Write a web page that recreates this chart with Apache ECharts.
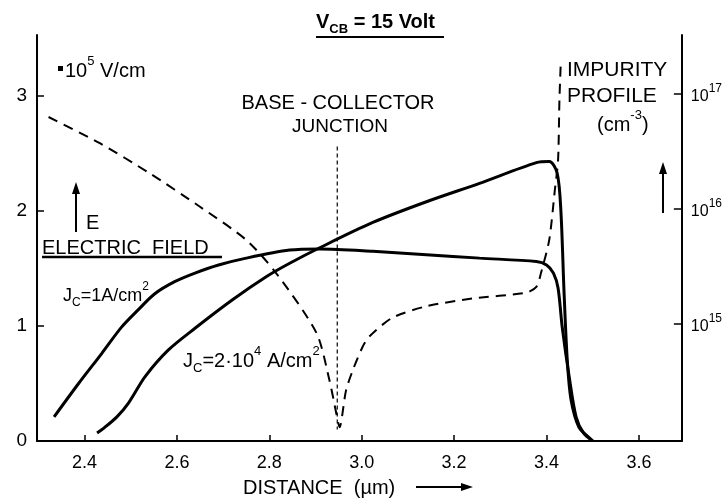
<!DOCTYPE html>
<html>
<head>
<meta charset="utf-8">
<script src="https://cdn.jsdelivr.net/npm/echarts@6/dist/echarts.min.js"></script>
<style>
  html, body { margin: 0; padding: 0; background: #fff; }
  #chart { width: 725px; height: 500px; }
</style>
</head>
<body>
<div id="chart"></div>
<script>
// Axis ticks
const distanceTicks = [2.4, 2.6, 2.8, 3.0, 3.2, 3.4, 3.6];   // µm
const fieldTicks = [0, 1, 2, 3];                              // 10^5 V/cm
const impurityDecades = [15, 16, 17];                         // log10(cm^-3)

// Electric field for J_C = 1 A/cm^2
const lowCurrentX = [2.334, 2.387, 2.437, 2.480, 2.516, 2.552, 2.595, 2.639, 2.690, 2.750, 2.844, 2.909,
                     3.024, 3.140, 3.255, 3.378, 3.400, 3.415, 3.425, 3.434, 3.449, 3.464, 3.480, 3.500];
const lowCurrentE = [0.21, 0.50, 0.76, 0.99, 1.14, 1.28, 1.385, 1.46, 1.53, 1.59, 1.66, 1.67,
                     1.65, 1.62, 1.59, 1.56, 1.53, 1.46, 1.33, 0.99, 0.56, 0.21, 0.07, 0.00];

// Electric field for J_C = 2·10^4 A/cm^2
const highCurrentX = [2.427, 2.441, 2.470, 2.495, 2.531, 2.581, 2.639, 2.721, 2.794, 2.844, 2.909,
                      3.024, 3.140, 3.255, 3.378, 3.406, 3.423, 3.431, 3.438, 3.445, 3.453, 3.470, 3.492, 3.500];
const highCurrentE = [0.07, 0.11, 0.21, 0.33, 0.56, 0.79, 0.98, 1.23, 1.43, 1.545, 1.68,
                      1.90, 2.08, 2.24, 2.42, 2.43, 2.33, 2.01, 1.29, 0.70, 0.36, 0.12, 0.03, 0.00];

// Impurity profile (cm^-3)
const impurityX = [2.322, 2.433, 2.541, 2.649, 2.750, 2.815, 2.902, 2.930, 2.945, 2.952,
                   2.966, 2.981, 3.002, 3.017, 3.066, 3.140, 3.240, 3.356, 3.378, 3.388,
                   3.406, 3.418, 3.425, 3.428, 3.431];
const impurityN = [6.24e16, 3.69e16, 2.02e16, 1.04e16, 5.32e15, 2.73e15, 8.28e14, 3.22e14, 1.65e14, 1.25e14,
                   2.62e14, 3.96e14, 6.28e14, 7.73e14, 1.12e15, 1.41e15, 1.65e15, 1.85e15, 2.08e15, 2.74e15,
                   5.35e15, 1.44e16, 2.62e16, 8.87e16, 1.90e17];

// Metallurgical base-collector junction
const junctionX = [2.947, 2.947];
const junctionE = [2.56, 0.10];

const FONT = '"Liberation Sans", Arial, sans-serif';
const pairs = (xs, ys) => xs.map((x, i) => [x, ys[i]]);

const fieldMax = 3.53;
const logMin = 13.978;
const logMax = logMin + fieldMax;

const chart = echarts.init(document.getElementById('chart'), null, { renderer: 'canvas' });

function makeRich(size, small, weight) {
  const w = weight || 'normal';
  return {
    n: { fontSize: size, fontWeight: w, fontFamily: FONT, color: '#000', lineHeight: size + 6, verticalAlign: 'bottom' },
    s: { fontSize: small, fontWeight: w, fontFamily: FONT, color: '#000', lineHeight: size + 6, verticalAlign: 'top' },
    b: { fontSize: small, fontWeight: w, fontFamily: FONT, color: '#000', lineHeight: size + 6, verticalAlign: 'bottom', padding: [0, 0, -4, 0] }
  };
}

function text(x, y, str, size, align) {
  return {
    type: 'text', x: x, y: y, silent: true,
    style: { text: str, fill: '#000', font: size + 'px ' + FONT, textAlign: align || 'left', textVerticalAlign: 'middle' }
  };
}
function richText(x, y, str, rich, align) {
  return {
    type: 'text', x: x, y: y, silent: true,
    style: { text: str, rich: rich, textAlign: align || 'left', textVerticalAlign: 'middle', fill: '#000', font: '18px ' + FONT }
  };
}
function arrowUp(x, yTip, yBase) {
  return [
    { type: 'line', silent: true, shape: { x1: x, y1: yBase, x2: x, y2: yTip + 8 }, style: { stroke: '#000', lineWidth: 2 } },
    { type: 'polygon', silent: true, shape: { points: [[x, yTip], [x - 4, yTip + 12], [x + 4, yTip + 12]] }, style: { fill: '#000' } }
  ];
}

const option = {
  animation: false,
  backgroundColor: '#fff',
  grid: { left: 37, right: 42, top: 35, bottom: 59, containLabel: false },
  xAxis: {
    type: 'value', min: 2.297, max: 3.693,
    axisLine: { show: true, lineStyle: { color: '#000', width: 2 } },
    axisTick: { show: true, inside: true, length: 6, lineStyle: { color: '#000', width: 1.5 }, customValues: distanceTicks },
    axisLabel: { color: '#000', fontSize: 18, fontFamily: FONT, margin: 13, customValues: distanceTicks,
                 formatter: v => v.toFixed(1) },
    splitLine: { show: false }
  },
  yAxis: [
    {
      type: 'value', min: 0, max: fieldMax, position: 'left',
      axisLine: { show: true, lineStyle: { color: '#000', width: 2 } },
      axisTick: { show: true, inside: true, length: 7, lineStyle: { color: '#000', width: 1.5 }, customValues: fieldTicks },
      axisLabel: { color: '#000', fontSize: 19, fontFamily: FONT, margin: 10, customValues: fieldTicks },
      splitLine: { show: false }
    },
    {
      type: 'value', min: logMin, max: logMax, position: 'right',
      axisLine: { show: true, lineStyle: { color: '#000', width: 2 } },
      axisTick: { show: true, inside: true, length: 8, lineStyle: { color: '#000', width: 1.5 }, customValues: impurityDecades },
      axisLabel: {
        customValues: impurityDecades, margin: 9,
        formatter: v => '{n|10}{s|' + Math.round(v) + '}',
        rich: makeRich(16, 12)
      },
      splitLine: { show: false }
    },
    {
      type: 'log', logBase: 10, min: Math.pow(10, logMin), max: Math.pow(10, logMax),
      position: 'right', show: false, splitLine: { show: false }
    }
  ],
  series: [
    {
      name: 'J_C = 1 A/cm²', type: 'line', data: pairs(lowCurrentX, lowCurrentE),
      showSymbol: false, smooth: 0.3, yAxisIndex: 0,
      lineStyle: { color: '#000', width: 3 }
    },
    {
      name: 'J_C = 2·10^4 A/cm²', type: 'line', data: pairs(highCurrentX, highCurrentE),
      showSymbol: false, smooth: 0.3, yAxisIndex: 0,
      lineStyle: { color: '#000', width: 3 }
    },
    {
      name: 'Impurity profile', type: 'line', data: pairs(impurityX, impurityN),
      showSymbol: false, smooth: 0.25, yAxisIndex: 2,
      lineStyle: { color: '#000', width: 2, type: [10, 7] }
    },
    {
      name: 'Junction', type: 'line', data: pairs(junctionX, junctionE),
      showSymbol: false, yAxisIndex: 0,
      lineStyle: { color: '#000', width: 1.2, type: [4, 3] }
    }
  ],
  graphic: [
    // title
    richText(316, 19, '{n|V}{b|CB}{n| = 15 Volt}', makeRich(20, 13, 'bold')),
    { type: 'line', silent: true, shape: { x1: 316, y1: 37, x2: 444, y2: 37 }, style: { stroke: '#000', lineWidth: 2 } },
    // unit of the field axis
    { type: 'rect', silent: true, shape: { x: 58, y: 66, width: 5, height: 5 }, style: { fill: '#000' } },
    richText(65, 68, '{n|10}{s|5}{n| V/cm}', makeRich(20, 13)),
    // junction label
    text(338, 103, 'BASE - COLLECTOR', 20, 'center'),
    text(340, 127, 'JUNCTION', 19, 'center'),
    // impurity label
    text(567, 70, 'IMPURITY', 21),
    text(567, 96, 'PROFILE', 21),
    richText(597, 122, '{n|(cm}{s|-3}{n|)}', makeRich(20, 13)),
    ...arrowUp(663, 162, 213),
    // field label
    ...arrowUp(76, 182, 232),
    text(86, 223, 'E', 20),
    text(42, 248, 'ELECTRIC  FIELD', 20),
    { type: 'line', silent: true, shape: { x1: 42, y1: 257, x2: 222, y2: 257 }, style: { stroke: '#000', lineWidth: 2.5 } },
    // curve labels
    richText(63, 293, '{n|J}{b|C}{n|=1A/cm}{s|2}', makeRich(18, 12)),
    richText(183, 358, '{n|J}{b|C}{n|=2·10}{s|4}{n| A/cm}{s|2}', makeRich(20, 13)),
    // distance axis title
    text(243, 488, 'DISTANCE  (µm)', 20),
    { type: 'line', silent: true, shape: { x1: 416, y1: 487, x2: 462, y2: 487 }, style: { stroke: '#000', lineWidth: 2 } },
    { type: 'polygon', silent: true, shape: { points: [[473, 487], [461, 483], [461, 491]] }, style: { fill: '#000' } }
  ]
};

chart.setOption(option);
</script>
</body>
</html>
